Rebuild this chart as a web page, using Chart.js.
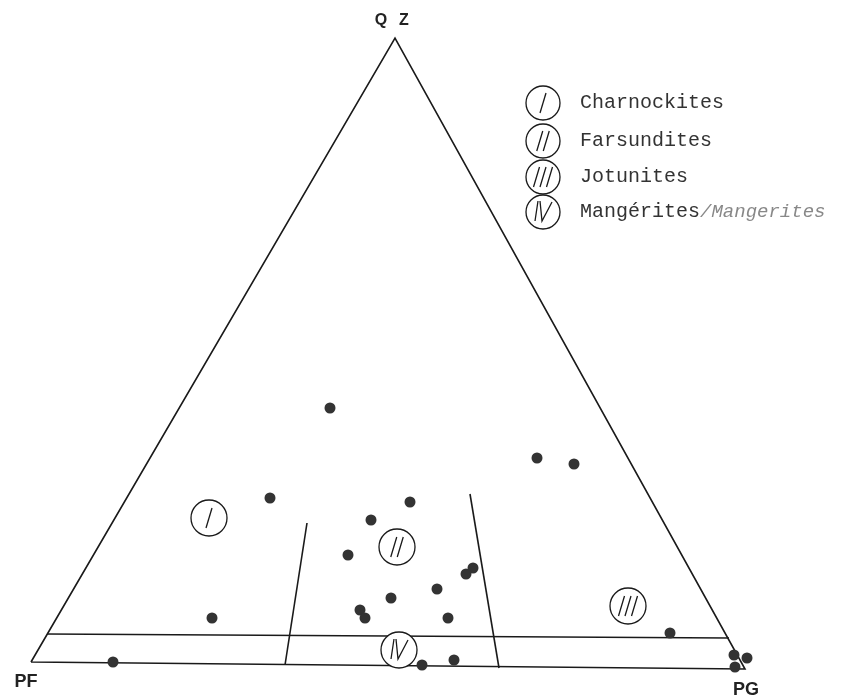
<!DOCTYPE html>
<html>
<head>
<meta charset="utf-8">
<script src="https://cdn.jsdelivr.net/npm/chart.js@4"></script>
<style>
  body { margin: 0; background: #fff; }
  #wrap { width: 852px; height: 700px; position: relative; }
</style>
</head>
<body>
<div id="wrap"><canvas id="chart"></canvas></div>
<script>
// Ternary QZ - PF - PG diagram, drawn on a flat x/y plane (page units)

// triangle corners
const apexQZ = [395, 38];
const cornerPF = [31, 662];
const cornerPG = [745, 669];

// field boundaries
const lowerBoundary = [[47, 634], [729, 638]];
const leftDivider = [[307, 523], [285, 665]];
const rightDivider = [[470, 494], [499, 668]];

// sample points
const sampleX = [330, 270, 537, 574, 410, 371, 348, 473, 466, 437, 391, 360, 365, 448, 212, 670, 113, 422, 454, 734, 747, 735];
const sampleY = [408, 498, 458, 464, 502, 520, 555, 568, 574, 589, 598, 610, 618, 618, 618, 633, 662, 665, 660, 655, 658, 667];

// field labels (roman numerals in circles)
const fieldNumerals = ['I', 'II', 'III', 'IV'];
const fieldX = [209, 397, 628, 399];
const fieldY = [518, 547, 606, 650];

// legend
const legendNames = ['Charnockites', 'Farsundites', 'Jotunites', 'Mangérites'];
const legendAlt = ['', '', '', '/Mangerites'];
const legendX = 543;
const legendY = [103, 141, 177, 212];

const ink = '#1a1a1a';
const dotColor = '#333333';

const toPts = arr => arr.map(p => ({ x: p[0], y: p[1] }));

function numeralStrokes(ctx, cx, cy, numeral) {
    ctx.beginPath();
    if (numeral === 'IV') {
        ctx.moveTo(cx - 8, cy + 9); ctx.lineTo(cx - 5, cy - 11);
        ctx.moveTo(cx - 3, cy - 11); ctx.lineTo(cx - 1, cy + 9); ctx.lineTo(cx + 9, cy - 10);
    } else {
        const n = numeral.length;
        for (let i = 0; i < n; i++) {
            const off = (i - (n - 1) / 2) * 6.5;
            ctx.moveTo(cx + off + 3, cy - 10);
            ctx.lineTo(cx + off - 3, cy + 10);
        }
    }
    ctx.stroke();
}

const annotations = {
    id: 'annotations',
    afterDatasetsDraw(chart) {
        const { ctx, scales: { x, y } } = chart;
        ctx.save();
        ctx.strokeStyle = ink;
        ctx.lineWidth = 1.3;
        fieldNumerals.forEach((num, i) => {
            numeralStrokes(ctx, x.getPixelForValue(fieldX[i]), y.getPixelForValue(fieldY[i]), num);
        });

        // legend
        legendNames.forEach((name, i) => {
            const cx = x.getPixelForValue(legendX), cy = y.getPixelForValue(legendY[i]);
            ctx.beginPath();
            ctx.arc(cx, cy, 17, 0, Math.PI * 2);
            ctx.fillStyle = '#fff';
            ctx.fill();
            ctx.stroke();
            numeralStrokes(ctx, cx, cy, fieldNumerals[i]);
            ctx.font = '20px "Liberation Mono"';
            ctx.fillStyle = '#333';
            ctx.textBaseline = 'middle';
            ctx.textAlign = 'left';
            ctx.fillText(name, cx + 37, cy);
            if (legendAlt[i]) {
                const w = ctx.measureText(name).width;
                ctx.font = 'italic 19px "Liberation Mono"';
                ctx.fillStyle = '#888';
                ctx.fillText(legendAlt[i], cx + 37 + w, cy);
            }
        });

        // corner labels
        ctx.fillStyle = '#222';
        ctx.textAlign = 'center';
        ctx.font = 'bold 16px "Liberation Sans"';
        ctx.fillText('Q', x.getPixelForValue(381), y.getPixelForValue(21));
        ctx.fillText('Z', x.getPixelForValue(404), y.getPixelForValue(21));
        ctx.font = 'bold 18px "Liberation Sans"';
        ctx.fillText('PF', x.getPixelForValue(26), y.getPixelForValue(682));
        ctx.fillText('PG', x.getPixelForValue(746), y.getPixelForValue(690));
        ctx.restore();
    }
};

const lineStyle = {
    showLine: true,
    pointRadius: 0,
    borderColor: ink,
    borderWidth: 1.6,
    tension: 0,
    fill: false
};

new Chart(document.getElementById('chart'), {
    type: 'scatter',
    plugins: [annotations],
    data: {
        datasets: [
            {
                label: 'samples',
                data: sampleX.map((v, i) => ({ x: v, y: sampleY[i] })),
                pointRadius: 5.5,
                pointHoverRadius: 5.5,
                backgroundColor: dotColor,
                borderWidth: 0,
                order: 0
            },
            {
                label: 'fields',
                data: fieldX.map((v, i) => ({ x: v, y: fieldY[i] })),
                pointRadius: 18,
                backgroundColor: '#fff',
                borderColor: ink,
                borderWidth: 1.3,
                order: 1
            },
            { label: 'triangle', data: toPts([cornerPF, apexQZ, cornerPG, cornerPF]), ...lineStyle, order: 2 },
            { label: 'lower', data: toPts(lowerBoundary), ...lineStyle, order: 2 },
            { label: 'left', data: toPts(leftDivider), ...lineStyle, order: 2 },
            { label: 'right', data: toPts(rightDivider), ...lineStyle, order: 2 }
        ]
    },
    options: {
        responsive: true,
        maintainAspectRatio: false,
        animation: false,
        layout: { padding: 0, autoPadding: false },
        plugins: {
            legend: { display: false },
            tooltip: { enabled: false }
        },
        scales: {
            x: { type: 'linear', min: 0, max: 852, display: false },
            y: { type: 'linear', min: 0, max: 700, reverse: true, display: false }
        }
    }
});
</script>
</body>
</html>
